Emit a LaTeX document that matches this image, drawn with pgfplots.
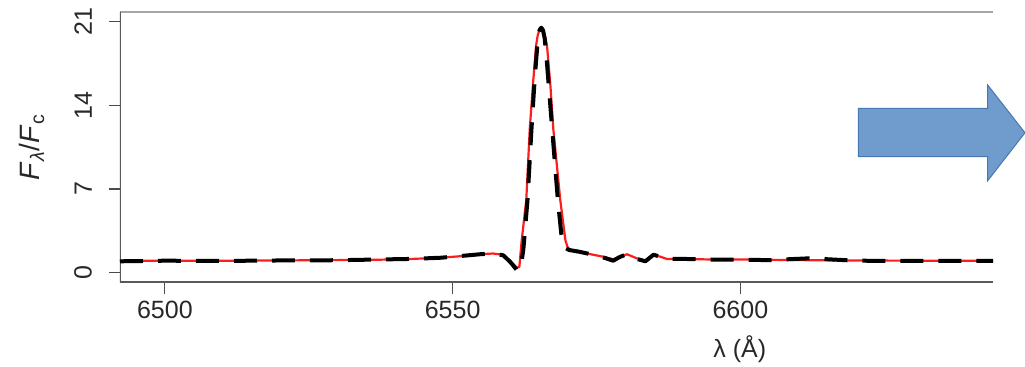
\documentclass[border=0pt]{standalone}
\usepackage{pgfplots}
\pgfplotsset{compat=1.18}
\usepackage{fontspec}
\setmainfont{Liberation Sans}
\definecolor{arrowfill}{RGB}{111,156,204}
\definecolor{arrowdraw}{RGB}{72,120,178}
\definecolor{txt}{RGB}{40,40,40}
\definecolor{modred}{RGB}{250,30,30}
\begin{document}
\begin{tikzpicture}
\useasboundingbox (0,0) rectangle (512.5pt,183.5pt);
\begin{axis}[
  at={(60pt,42.15pt)}, anchor=south west,
  scale only axis, width=436.5pt, height=135.5pt,
  xmin=6492.2, xmax=6643.9, ymin=-0.84, ymax=21.84,
  axis line style={draw=none},
  xtick={6500,6550,6600}, ytick={0,7,14,21},
  xtick pos=bottom, ytick pos=left,
  tick align=outside, major tick length=5.5pt,
  tick style={black!70, line width=0.6pt},
  /pgf/number format/assume math mode=true,
  /pgf/number format/1000 sep={},
  tick label style={font=\fontsize{12.5}{15}\selectfont, text=txt},
  yticklabel style={rotate=90, anchor=south, yshift=5pt},
  every axis y label/.style={at={(axis description cs:-0.1008,0.5)}, rotate=90, anchor=center, font=\fontsize{14}{16}\selectfont, text=txt},
  every axis x label/.style={at={(axis description cs:0.710,-0.245)}, anchor=center, font=\fontsize{12.5}{15}\selectfont, text=txt},
  ylabel={\textit{F}\textsubscript{\textit{λ}}/\textit{F}\textsubscript{c}},
  xlabel={λ (Å)},
]
\draw[black!35, line width=1.3pt] (rel axis cs:0,1) -- (rel axis cs:1,1);
\draw[black!65, line width=1.3pt] (rel axis cs:0,1) -- (rel axis cs:0,0) -- (rel axis cs:1,0);
\addplot[modred, line width=1.1pt, line join=round] coordinates {
(6492.2,1.0) (6500,1.0) (6510,1.0) (6520,1.02) (6530,1.05) (6537,1.08) (6543,1.15)
(6548,1.25) (6552,1.4) (6555,1.55) (6557,1.6) (6558.8,1.5) (6560,1.0) (6561.2,0.4)
(6561.6,0.5) (6562.0,2.7) (6562.8,6.1) (6563.4,12.0) (6564.0,16.0) (6564.5,19.0)
(6564.8,19.9) (6565.1,20.3) (6565.4,20.45) (6565.7,20.3) (6566.0,19.9) (6566.4,19.0)
(6567.0,15.6) (6567.5,12.0) (6568.7,6.1) (6569.6,2.7) (6570.0,2.1) (6570.6,1.85)
(6572,1.75) (6574.4,1.5) (6576,1.35) (6577.9,1.12) (6579,1.3) (6580.3,1.54)
(6582,1.2) (6583.5,1.0) (6584.9,1.48) (6586,1.35) (6587.2,1.15) (6590,1.15)
(6595,1.1) (6600,1.1) (6610,1.05) (6620,1.02) (6630,1.0) (6643.9,1.0)
};
\addplot[black, line width=2pt, line join=round, dash pattern=on 11.5pt off 7.5pt] coordinates {
(6492.2,0.95) (6500,1.0) (6510,0.98) (6520,1.02) (6530,1.04) (6537,1.1) (6543,1.15)
(6548,1.25) (6552,1.42) (6555,1.55) (6557,1.6) (6558.8,1.45) (6560,0.9) (6561.2,0.2)
(6561.8,0.3) (6562.3,2.0) (6563.0,6.0) (6563.7,12.0) (6564.3,16.5) (6564.8,19.5)
(6565.1,20.3) (6565.4,20.5) (6565.7,20.3) (6566.0,19.6) (6566.4,17.5) (6567.3,12.0)
(6568.3,6.0) (6569.0,2.7) (6569.5,2.1) (6570.2,1.9) (6572,1.75) (6574.4,1.5)
(6576,1.3) (6577.9,1.0) (6579,1.3) (6580.3,1.55) (6582,1.15) (6583.5,0.95)
(6584.9,1.5) (6586,1.35) (6587.2,1.15) (6590,1.15) (6595,1.1) (6600,1.08)
(6605,1.05) (6612,1.2) (6620,1.0) (6630,0.98) (6643.9,0.98)
};
\end{axis}
\draw[fill=arrowfill, draw=arrowdraw, line width=0.5pt]
  (429.15pt,129.35pt) -- (493.85pt,129.35pt) -- (493.85pt,141pt) -- (512.5pt,117.1pt)
  -- (493.85pt,93.15pt) -- (493.85pt,105.15pt) -- (429.15pt,105.15pt) -- cycle;
\end{tikzpicture}
\end{document}
